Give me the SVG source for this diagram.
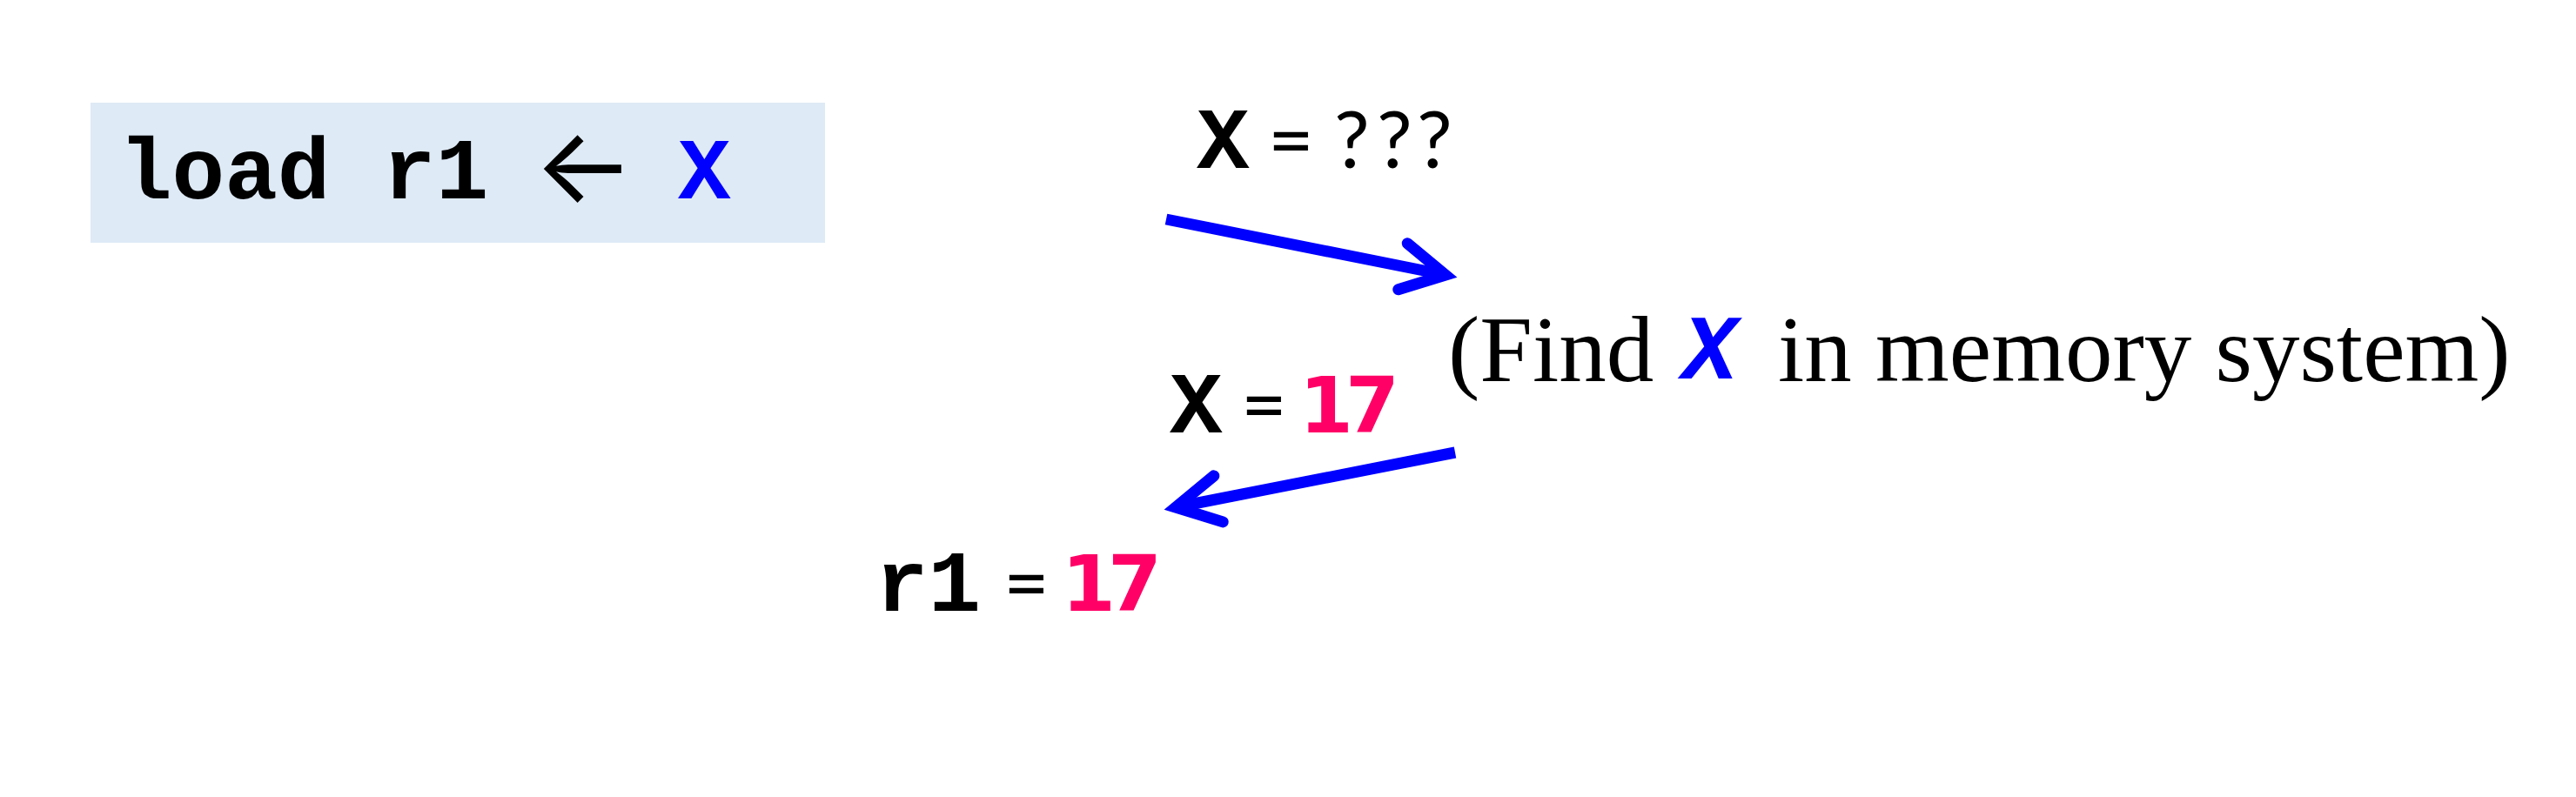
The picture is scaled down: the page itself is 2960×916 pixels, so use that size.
<svg xmlns="http://www.w3.org/2000/svg" width="2960" height="916" viewBox="0 0 2960 916">
<defs>
<style>
.mono{font-family:"Liberation Mono","Courier New",monospace;font-weight:bold;font-size:101px;fill:#000}
.monoI{font-family:"Liberation Mono","Courier New",monospace;font-weight:bold;font-style:italic;font-size:105px;fill:#0000FF}
.sans{font-family:Lato,"Liberation Sans",sans-serif;font-size:91px;fill:#000}
.num{font-family:"DejaVu Sans",Lato,sans-serif;font-weight:bold;font-size:89px;fill:#FF0066}
.serif{font-family:"Liberation Serif","Times New Roman",serif;font-size:109px;fill:#000}
.arrowglyph{font-family:Inter,"DejaVu Sans",sans-serif;font-size:122px;fill:#000;text-anchor:middle}
.blue{fill:#0000FF}
.conn{fill:none;stroke:#0000FF;stroke-width:13}
</style>
<marker id="head" markerUnits="userSpaceOnUse" viewBox="-80 -50 100 100" markerWidth="100" markerHeight="100" refX="0" refY="0" orient="auto" overflow="visible">
<path d="M-50,-27 L0,0 L-50,27" fill="none" stroke="#0000FF" stroke-width="13" stroke-linecap="round" stroke-linejoin="miter"/>
</marker>
</defs>
<rect width="2960" height="916" fill="#FFFFFF"/>
<g id="instruction">
<rect x="104" y="118" width="844" height="161" fill="#DEEAF6"/>
<text class="mono" y="228"><tspan x="137">load r1</tspan><tspan x="779" class="blue">X</tspan></text>
<text class="arrowglyph" x="671" y="233">←</text>
</g>
<g id="query">
<text class="mono" x="1375" y="193">X</text>
<text class="sans" y="193"><tspan x="1457">=</tspan><tspan x="1533 1582 1628">???</tspan></text>
</g>
<g id="memory">
<text class="serif" y="438"><tspan x="1664">(Find</tspan><tspan x="1933" y="435" class="monoI">X</tspan><tspan x="2043" y="438">in memory system)</tspan></text>
</g>
<g id="reply">
<text class="mono" x="1344" y="497">X</text>
<text class="sans" x="1426" y="497">=</text>
<text class="num" x="1493 1546" y="497">17</text>
</g>
<g id="result">
<text class="mono" x="1006" y="702">r1</text>
<text class="sans" x="1153" y="702">=</text>
<text class="num" x="1220 1273" y="702">17</text>
</g>
<g id="connectors">
<path class="conn" d="M1340,252 L1661,316" marker-end="url(#head)"/>
<path class="conn" d="M1672,520 L1351,583" marker-end="url(#head)"/>
</g>
</svg>
